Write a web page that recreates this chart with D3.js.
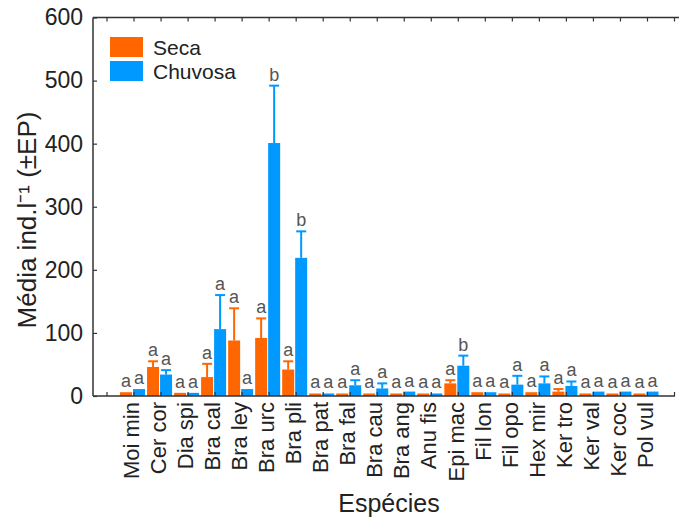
<!DOCTYPE html>
<html>
<head>
<meta charset="utf-8">
<script src="https://cdn.jsdelivr.net/npm/d3@7/dist/d3.min.js"></script>
<style>
  html, body { margin: 0; padding: 0; background: #fff; }
  svg { display: block; font-family: "Liberation Sans", Arial, sans-serif; }
</style>
</head>
<body>
<svg id="chart" width="679" height="521"></svg>
<script>
const categories = ["Moi min","Cer cor","Dia spi","Bra cal","Bra ley","Bra urc","Bra pli","Bra pat","Bra fal","Bra cau","Bra ang","Anu fis","Epi mac","Fil lon","Fil opo","Hex mir","Ker tro","Ker val","Ker coc","Pol vul"];
const secaMean = [6, 46, 5, 30, 88, 92, 42, 4, 4, 4, 4, 4, 20, 6, 4, 6, 7, 4, 4, 4];
const secaErr  = [0, 9, 0, 21, 51, 31, 13, 0, 0, 0, 0, 0, 5, 0, 0, 0, 4, 0, 0, 0];
const chuvMean = [11, 34, 5, 106, 11, 401, 219, 4, 17, 12, 7, 4, 48, 6, 18, 20, 16, 7, 7, 7];
const chuvErr  = [0, 7, 0, 54, 0, 91, 42, 0, 8, 8, 0, 0, 16, 0, 14, 11, 7, 0, 0, 0];
const secaLetters = ["a","a","a","a","a","a","a","a","a","a","a","a","a","a","a","a","a","a","a","a"];
const chuvLetters = ["a","a","a","a","a","b","b","a","a","a","a","a","b","a","a","a","a","a","a","a"];
const seriesNames = ["Seca", "Chuvosa"];
const yTicks = [0, 100, 200, 300, 400, 500, 600];

(function () {
const colors = ["#FF6600", "#0099FF"];
const svg = d3.select("#chart");
const mLeft = 93, mRight = 674, mTop = 17.5, mBottom = 396;

const x = d3.scaleLinear().domain([-0.5, 21]).range([mLeft, mRight]);
const y = d3.scaleLinear().domain([0, 600]).range([mBottom, mTop]);

const series = [
  {name: seriesNames[0], mean: secaMean, err: secaErr, letters: secaLetters, off: -13.5},
  {name: seriesNames[1], mean: chuvMean, err: chuvErr, letters: chuvLetters, off: -0.5}
];
const barW = 12;

series.forEach((s, si) => {
  const g = svg.append("g");
  categories.forEach((c, i) => {
    const cx = x(i + 1) + s.off;
    g.append("rect")
      .attr("x", cx).attr("width", barW)
      .attr("y", y(s.mean[i])).attr("height", y(0) - y(s.mean[i]))
      .attr("fill", colors[si]);
    if (s.err[i] > 0) {
      const mid = cx + barW / 2;
      g.append("line").attr("x1", mid).attr("x2", mid)
        .attr("y1", y(s.mean[i])).attr("y2", y(s.mean[i] + s.err[i]))
        .attr("stroke", colors[si]).attr("stroke-width", 2);
      g.append("line").attr("x1", mid - 5).attr("x2", mid + 5)
        .attr("y1", y(s.mean[i] + s.err[i])).attr("y2", y(s.mean[i] + s.err[i]))
        .attr("stroke", colors[si]).attr("stroke-width", 2);
    }
    g.append("text")
      .attr("x", cx + barW / 2)
      .attr("y", y(s.mean[i] + s.err[i]) - 5)
      .attr("text-anchor", "middle")
      .attr("font-size", 18)
      .attr("fill", "#555")
      .text(s.letters[i]);
  });
});

const axisColor = "#333";
svg.append("line").attr("x1", mLeft).attr("x2", mLeft).attr("y1", mTop).attr("y2", mBottom)
  .attr("stroke", axisColor).attr("stroke-width", 1.5);
svg.append("line").attr("x1", mLeft).attr("x2", 679).attr("y1", mTop).attr("y2", mTop)
  .attr("stroke", axisColor).attr("stroke-width", 1.5);
svg.append("line").attr("x1", mLeft).attr("x2", mRight + 1).attr("y1", mBottom).attr("y2", mBottom)
  .attr("stroke", axisColor).attr("stroke-width", 1.5);

const xTicks = d3.range(0, 22);
const topAxis = svg.append("g").attr("transform", `translate(0,${mTop})`)
  .call(d3.axisTop(x).tickValues(xTicks).tickFormat("").tickSizeInner(-4).tickSizeOuter(0));
const botAxis = svg.append("g").attr("transform", `translate(0,${mBottom})`)
  .call(d3.axisBottom(x).tickValues(xTicks).tickFormat("").tickSizeInner(-4).tickSizeOuter(0));
[topAxis, botAxis].forEach(a => {
  a.select(".domain").remove();
  a.selectAll(".tick line").attr("stroke", axisColor).attr("stroke-width", 1.2);
});

const yAxis = svg.append("g").attr("transform", `translate(${mLeft},0)`)
  .call(d3.axisLeft(y).tickValues(yTicks).tickSizeInner(-4).tickSizeOuter(0).tickPadding(10));
yAxis.select(".domain").remove();
yAxis.selectAll(".tick line").attr("stroke", axisColor).attr("stroke-width", 1.2);
yAxis.selectAll(".tick text").attr("font-size", 23).attr("fill", "#222")
  .attr("font-family", "Liberation Sans, Arial, sans-serif");

categories.forEach((c, i) => {
  svg.append("text")
    .attr("transform", `translate(${x(i + 1) - 2},${mBottom + 6}) rotate(-90)`)
    .attr("text-anchor", "end")
    .attr("dy", "0.35em")
    .attr("font-size", 22)
    .attr("fill", "#222")
    .text(c);
});

svg.append("text")
  .attr("transform", "translate(36,220) rotate(-90)")
  .attr("text-anchor", "middle")
  .attr("font-size", 26)
  .attr("fill", "#222")
  .text("Média ind.l⁻¹ (±EP)");
svg.append("text")
  .attr("x", 389).attr("y", 512)
  .attr("text-anchor", "middle")
  .attr("font-size", 25)
  .attr("fill", "#222")
  .text("Espécies");

seriesNames.forEach((n, i) => {
  svg.append("rect").attr("x", 110).attr("y", 37 + i * 24).attr("width", 33).attr("height", 20)
    .attr("fill", colors[i]);
  svg.append("text").attr("x", 153).attr("y", 55 + i * 24)
    .attr("font-size", 21).attr("fill", "#222").text(n);
});
})();
</script>
</body>
</html>
